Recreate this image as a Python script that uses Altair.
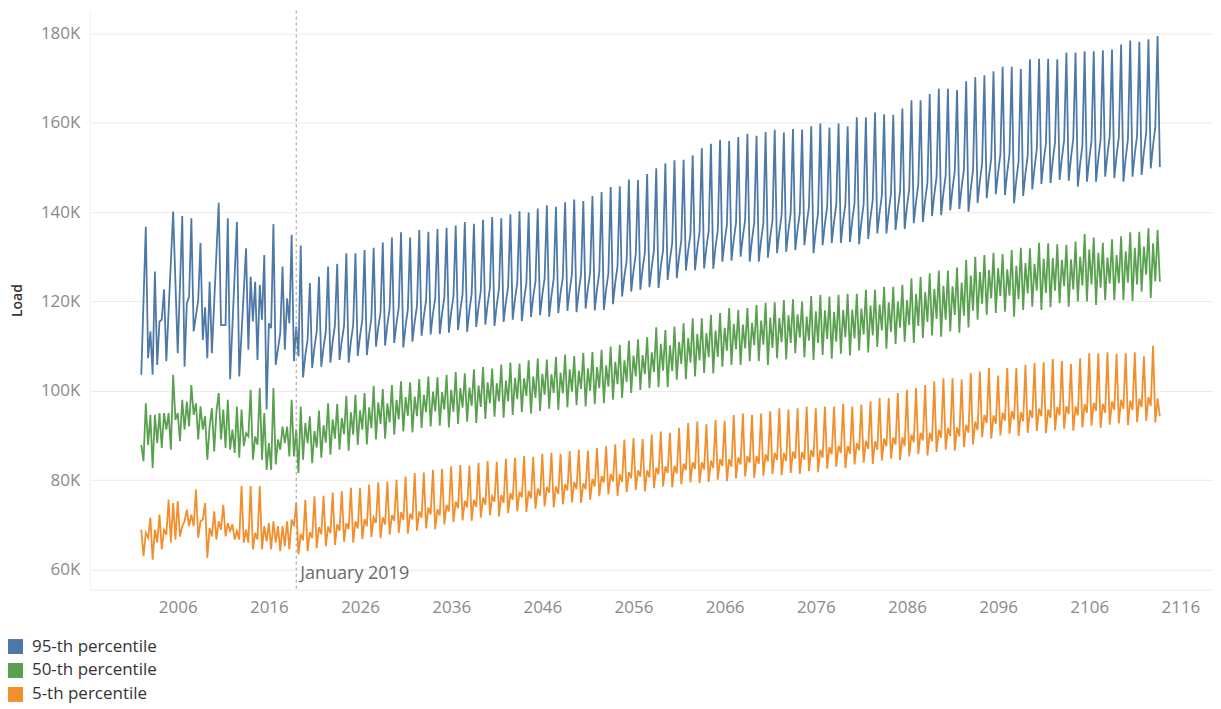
import altair as alt
import pandas as pd

FONT = "Open Sans"
SERIES = ["95-th percentile", "50-th percentile", "5-th percentile"]
COLORS = ["#4e79a7", "#59a14f", "#f28e2b"]
REF_DATE = "2019-01-01"
REF_LABEL = "January 2019"
X_TICK_YEARS = [2006, 2016, 2026, 2036, 2046, 2056, 2066, 2076, 2086, 2096, 2106, 2116]
Y_TICKS = [60, 80, 100, 120, 140, 160, 180]

# ---------------- historical part (values in thousands) ----------------
blue_hist_dates = [
    "2002-01", "2002-07", "2002-10", "2003-01", "2003-04", "2003-07", "2003-10",
    "2004-01", "2004-04", "2004-07", "2004-10", "2005-07", "2006-01", "2006-07",
    "2006-10", "2007-01", "2007-04", "2007-07", "2007-10", "2008-04", "2008-07",
    "2008-10", "2009-01", "2009-04", "2009-07", "2009-10", "2010-07", "2010-10",
    "2011-04", "2011-07", "2011-10", "2012-07", "2012-10", "2013-01", "2013-07",
    "2013-10", "2014-01", "2014-04", "2014-07", "2014-10", "2015-01", "2015-04",
    "2015-07", "2015-10", "2016-01", "2016-04", "2016-07", "2016-10", "2017-04",
    "2017-07", "2017-10", "2018-01", "2018-04", "2018-07", "2018-10",
]
blue_hist = [
    103.6, 136.7, 107.3, 113.3, 103.6, 126.7, 105.8,
    115.5, 115.9, 122.7, 106.6, 140.1, 108.4, 139.1,
    105.4, 119.6, 121.1, 138.6, 113.3, 120.3, 133.1,
    111.4, 118.7, 107.3, 124.4, 108.4, 142.1, 114.7,
    114.7, 138.6, 102.6, 137.8, 103.2, 112.9, 131.9,
    109.2, 125.5, 115.5, 124.4, 106.9, 123.7, 115.9,
    130.4, 95.8, 115.1, 114.0, 137.3, 105.8, 112.9,
    127.8, 109.2, 120.7, 115.1, 134.9, 106.6,
]

# quarterly (Jan, Apr, Jul, Oct) 2002 .. 2018
green_hist = [
    87.9, 84.2, 97.2, 87.9,
    94.6, 82.7, 94.6, 88.3,
    95.0, 87.2, 95.0, 91.3,
    95.0, 86.8, 103.6, 93.5,
    95.0, 88.7, 98.0, 91.3,
    97.6, 92.0, 101.3, 94.6,
    97.2, 89.1, 96.5, 91.3,
    94.3, 84.6, 92.0, 96.1,
    86.4, 95.4, 99.5, 89.1,
    95.8, 87.2, 98.0, 86.8,
    91.3, 86.1, 96.5, 85.0,
    95.8, 87.6, 90.5, 89.8,
    100.2, 84.6, 89.8, 87.9,
    100.6, 84.6, 95.0, 82.3,
    88.3, 82.3, 100.6, 83.5,
    89.1, 86.8, 92.0, 88.3,
    92.0, 85.3, 98.0, 85.3,
]
orange_hist = [
    68.9, 63.0, 68.2, 67.1,
    71.6, 62.2, 68.9, 66.0,
    72.3, 64.5, 68.9, 67.8,
    75.6, 66.0, 74.9, 66.7,
    75.3, 67.4, 69.7, 70.8,
    73.4, 69.7, 72.3, 69.7,
    77.9, 67.1, 70.8, 71.2,
    74.9, 62.6, 69.3, 67.4,
    73.0, 66.7, 70.8, 68.9,
    74.5, 67.4, 70.4, 68.6,
    70.1, 66.7, 68.6, 66.7,
    78.7, 66.0, 68.9, 66.0,
    78.7, 64.5, 68.2, 66.7,
    78.7, 64.5, 69.7, 66.3,
    70.4, 64.5, 70.8, 66.0,
    69.7, 64.1, 69.7, 65.2,
    70.8, 64.5, 71.2, 69.7,
]

# ---------------- forecast part: one value per year 2019 .. 2113 ----------------
blue_jan = [
    114.4, 108.0, 109.7, 109.8, 111.0, 111.2, 111.1, 112.3, 112.6, 114.2,
    114.8, 115.1, 114.5, 115.5, 116.7, 117.3, 117.2, 117.6, 118.0, 118.0,
    118.8, 119.4, 119.2, 119.8, 120.5, 120.4, 121.0, 121.5, 121.3, 121.9,
    122.5, 122.4, 122.9, 122.7, 122.7, 124.2, 125.6, 126.8, 127.3, 127.7,
    127.9, 129.4, 129.9, 131.4, 131.8, 132.0, 132.2, 133.5, 133.8, 134.5,
    133.8, 133.7, 134.4, 135.5, 135.9, 136.1, 137.3, 135.8, 137.4, 137.8,
    138.0, 138.1, 137.8, 138.8, 139.9, 140.1, 140.8, 141.2, 142.3, 142.7,
    143.9, 144.3, 145.2, 145.6, 145.2, 146.9, 148.1, 148.8, 148.9, 147.2,
    148.6, 150.0, 151.4, 151.5, 152.1, 152.2, 150.8, 151.8, 152.0, 152.9,
    152.7, 152.1, 153.0, 153.5, 154.9,
]
blue_apr = [
    107.7, 111.4, 113.3, 113.3, 114.7, 114.6, 114.7, 115.8, 116.3, 117.6,
    118.4, 118.6, 118.2, 119.0, 120.3, 120.7, 120.9, 121.1, 121.6, 121.7,
    122.3, 123.0, 122.9, 123.3, 124.1, 124.1, 124.5, 125.1, 125.1, 125.4,
    126.1, 126.1, 126.5, 126.5, 126.3, 127.9, 129.1, 130.5, 130.9, 131.5,
    131.5, 133.1, 133.7, 135.0, 135.5, 135.8, 135.9, 137.1, 137.6, 138.2,
    137.7, 137.5, 138.1, 139.3, 139.8, 139.8, 141.1, 139.8, 141.2, 141.7,
    141.8, 142.0, 141.8, 142.7, 143.7, 144.1, 144.7, 145.0, 146.3, 146.6,
    147.9, 148.2, 149.2, 149.5, 149.3, 150.9, 152.0, 152.9, 152.9, 151.4,
    152.6, 154.1, 155.4, 155.6, 156.1, 156.4, 154.9, 155.8, 156.2, 157.0,
    156.7, 156.3, 157.1, 157.7, 159.0,
]
blue_jul = [
    132.5, 124.1, 125.5, 127.8, 128.4, 130.8, 130.8, 131.5, 132.0, 133.2,
    134.3, 135.5, 134.3, 136.0, 135.6, 136.2, 136.5, 137.0, 137.8, 137.4,
    138.3, 138.9, 138.6, 139.5, 140.2, 139.9, 140.8, 141.5, 141.2, 142.2,
    142.8, 142.5, 143.6, 144.5, 145.6, 145.8, 147.3, 147.2, 148.5, 149.8,
    150.9, 151.6, 151.7, 152.7, 154.3, 155.3, 156.2, 155.9, 156.8, 157.5,
    157.1, 157.9, 158.4, 157.8, 158.6, 158.5, 159.2, 159.8, 158.9, 159.8,
    159.2, 161.2, 161.2, 162.3, 161.9, 161.8, 163.2, 165.0, 165.0, 166.4,
    167.6, 167.6, 167.3, 169.3, 170.2, 170.6, 171.5, 172.5, 172.5, 172.0,
    174.2, 174.3, 174.3, 174.2, 175.7, 175.7, 176.0, 176.0, 176.2, 176.4,
    177.5, 178.4, 178.1, 178.7, 179.4,
]
blue_oct = [
    103.0, 105.1, 105.4, 106.3, 106.9, 106.3, 107.8, 108.0, 109.9, 110.1,
    110.7, 109.7, 111.0, 112.3, 112.6, 112.7, 113.0, 113.6, 113.2, 114.3,
    114.8, 114.5, 115.4, 115.9, 115.6, 116.5, 116.9, 116.6, 117.4, 117.9,
    117.6, 118.4, 118.0, 118.1, 119.4, 121.1, 122.2, 122.6, 123.2, 123.0,
    124.8, 125.2, 126.9, 127.0, 127.4, 127.3, 128.9, 129.1, 130.0, 128.9,
    128.9, 129.8, 130.8, 131.1, 131.5, 132.6, 130.8, 132.6, 133.1, 133.1,
    133.3, 132.8, 134.0, 135.2, 135.2, 136.0, 136.2, 137.5, 137.8, 139.1,
    139.3, 140.4, 140.7, 140.1, 142.0, 143.1, 144.0, 143.8, 142.0, 143.6,
    145.1, 146.3, 146.5, 147.2, 147.0, 145.7, 146.8, 146.8, 147.9, 147.6,
    146.8, 147.9, 148.3, 149.8, 150.1,
]

green_jan = [
    91.3, 92.8, 91.0, 92.3, 93.6, 93.9, 95.2, 95.6, 96.3, 97.4,
    97.2, 97.9, 98.6, 98.7, 99.1, 99.8, 99.7, 100.2, 100.6, 100.7,
    101.2, 101.9, 101.7, 102.3, 102.9, 102.8, 103.2, 103.8, 103.7, 104.1,
    104.8, 104.5, 105.0, 105.3, 105.7, 106.5, 106.8, 107.9, 108.0, 108.6,
    110.5, 110.2, 110.9, 111.8, 112.7, 112.9, 113.5, 114.1, 115.0, 114.8,
    115.2, 115.7, 116.4, 116.3, 116.9, 117.1, 116.6, 117.8, 118.0, 117.7,
    118.1, 118.2, 118.4, 119.1, 119.3, 119.8, 120.0, 120.3, 121.7, 122.1,
    122.8, 123.5, 123.4, 124.2, 125.8, 126.6, 127.0, 127.4, 127.2, 128.0,
    128.6, 128.4, 129.6, 129.7, 129.3, 129.4, 130.0, 131.6, 130.9, 129.8,
    130.4, 131.2, 132.0, 132.3, 133.0,
]
green_apr = [
    81.6, 88.2, 87.3, 88.4, 89.3, 90.3, 90.2, 91.3, 91.6, 92.6,
    92.9, 93.6, 94.4, 94.3, 95.2, 95.4, 95.8, 95.3, 96.2, 96.6,
    96.4, 97.2, 97.6, 97.6, 98.1, 98.8, 98.4, 99.1, 99.5, 99.4,
    99.8, 100.4, 100.0, 100.6, 100.9, 101.5, 102.0, 103.2, 103.7, 104.2,
    104.5, 104.4, 106.0, 106.3, 106.8, 107.5, 107.6, 109.0, 109.3, 109.5,
    110.2, 110.3, 109.6, 110.9, 110.7, 111.9, 111.2, 110.7, 111.6, 111.0,
    112.0, 111.7, 112.6, 112.4, 113.5, 113.2, 114.1, 114.7, 114.5, 115.4,
    116.1, 115.9, 117.0, 116.8, 117.9, 119.5, 120.7, 121.2, 121.3, 120.5,
    121.8, 122.4, 121.9, 122.4, 123.4, 122.7, 123.6, 123.8, 123.1, 124.0,
    124.1, 124.2, 123.8, 126.0, 124.5,
]
green_jul = [
    96.5, 94.3, 95.6, 97.2, 97.1, 98.9, 99.1, 99.5, 101.1, 100.4,
    101.3, 102.1, 101.9, 102.6, 103.2, 103.0, 103.6, 104.2, 103.9, 104.8,
    105.3, 105.0, 105.9, 106.3, 106.1, 106.8, 107.2, 107.0, 107.6, 108.1,
    107.8, 108.5, 108.7, 109.2, 109.9, 110.3, 111.2, 111.5, 112.0, 114.2,
    113.6, 114.4, 115.1, 116.2, 116.2, 117.0, 117.4, 118.5, 118.1, 118.5,
    119.2, 119.7, 119.8, 120.3, 120.5, 120.0, 121.2, 121.5, 121.1, 121.5,
    121.7, 121.7, 122.6, 122.6, 123.3, 123.3, 123.7, 125.2, 125.5, 126.3,
    126.9, 126.9, 127.6, 129.3, 130.0, 130.4, 130.9, 130.6, 131.5, 132.0,
    131.9, 133.1, 133.0, 132.8, 132.7, 133.4, 135.1, 134.3, 133.1, 133.9,
    134.6, 135.5, 135.6, 136.4, 136.0,
]
green_oct = [
    84.6, 83.8, 85.0, 85.7, 86.8, 86.6, 87.9, 88.0, 89.1, 89.3,
    90.2, 90.9, 90.7, 91.7, 92.0, 92.2, 91.8, 92.6, 93.1, 92.8,
    93.7, 94.2, 94.0, 94.6, 95.2, 94.9, 95.5, 96.0, 95.7, 96.3,
    96.8, 96.5, 97.0, 97.2, 98.0, 98.4, 99.5, 100.2, 100.6, 100.8,
    100.8, 102.5, 102.6, 103.2, 104.0, 103.9, 105.4, 105.8, 105.8, 106.6,
    106.6, 105.8, 107.3, 107.0, 108.4, 107.5, 106.9, 108.0, 107.2, 108.3,
    107.9, 109.0, 108.6, 109.8, 109.4, 110.5, 111.0, 110.7, 111.8, 112.4,
    112.1, 113.3, 113.0, 114.2, 115.9, 117.0, 117.4, 117.7, 116.6, 118.1,
    118.8, 118.1, 118.7, 119.6, 118.8, 120.0, 120.0, 119.2, 120.3, 120.3,
    120.3, 120.1, 122.2, 120.8, 124.4,
]

orange_jan = [
    74.9, 75.6, 76.4, 76.5, 77.2, 77.5, 78.3, 78.3, 79.0, 79.5,
    79.7, 80.1, 80.8, 81.6, 81.7, 82.3, 82.5, 83.1, 83.4, 83.2,
    83.9, 84.3, 84.1, 84.8, 85.0, 85.4, 85.2, 85.9, 86.1, 85.9,
    86.5, 86.8, 86.6, 87.2, 87.6, 88.0, 89.1, 89.4, 89.2, 90.2,
    90.9, 90.6, 91.7, 92.8, 93.1, 92.5, 93.5, 93.3, 94.6, 94.9,
    94.6, 94.9, 95.4, 96.1, 95.8, 96.1, 96.5, 96.1, 96.5, 96.5,
    97.1, 96.5, 96.9, 97.6, 98.4, 98.4, 99.5, 100.2, 100.6, 101.3,
    102.1, 102.8, 102.8, 102.5, 104.0, 104.3, 105.1, 103.4, 105.1, 105.1,
    105.8, 106.2, 106.4, 107.1, 106.7, 106.0, 107.3, 108.4, 108.4, 108.6,
    108.3, 108.4, 108.6, 107.7, 110.1,
]
orange_apr = [
    63.4, 64.1, 64.8, 65.2, 65.5, 66.2, 66.0, 66.8, 67.3, 67.0,
    67.8, 68.2, 68.0, 68.7, 69.2, 69.0, 70.1, 70.6, 71.0, 70.9,
    71.6, 72.1, 71.9, 72.6, 73.0, 72.9, 73.6, 74.1, 73.9, 74.6,
    75.0, 74.9, 75.6, 76.4, 76.8, 76.5, 77.3, 77.8, 77.5, 78.2,
    78.6, 78.4, 79.1, 79.5, 79.3, 79.6, 80.1, 79.8, 80.4, 80.8,
    80.5, 81.0, 81.4, 81.1, 81.6, 81.4, 82.0, 81.8, 82.6, 83.0,
    82.7, 83.5, 83.9, 83.6, 84.4, 84.8, 84.5, 85.3, 85.8, 85.5,
    86.3, 86.8, 86.6, 87.4, 88.0, 89.6, 89.3, 90.0, 90.4, 89.9,
    90.6, 91.0, 90.5, 91.2, 91.5, 91.1, 91.8, 92.2, 91.7, 92.4,
    92.7, 92.3, 93.0, 93.3, 92.9,
]
orange_jul = [
    68.0, 68.4, 69.5, 69.6, 70.1, 70.4, 70.8, 71.3, 71.6, 71.7,
    72.2, 72.8, 72.5, 73.0, 73.9, 73.5, 74.5, 75.2, 75.4, 75.6,
    76.1, 76.4, 76.7, 77.1, 77.4, 77.6, 78.1, 78.5, 78.6, 79.1,
    79.6, 79.3, 80.3, 80.9, 81.4, 81.3, 81.8, 82.2, 82.2, 82.8,
    83.1, 83.2, 83.7, 84.0, 84.0, 84.4, 84.7, 84.7, 85.1, 85.4,
    85.4, 85.8, 86.1, 86.1, 86.4, 86.3, 86.7, 86.8, 87.4, 87.7,
    87.7, 88.3, 88.8, 88.7, 89.3, 89.6, 89.6, 90.2, 90.6, 90.6,
    91.3, 91.7, 91.8, 92.4, 93.1, 94.6, 94.5, 95.1, 95.4, 95.2,
    95.7, 96.0, 95.8, 96.4, 96.6, 96.5, 97.0, 97.3, 97.1, 97.6,
    98.0, 97.8, 98.2, 98.6, 98.3,
]
orange_oct = [
    66.5, 67.0, 67.9, 68.1, 68.7, 69.0, 69.2, 69.7, 70.4, 70.1,
    70.9, 71.1, 71.2, 71.6, 72.3, 72.1, 73.0, 73.7, 73.9, 74.0,
    74.5, 75.2, 74.9, 75.6, 76.1, 75.9, 76.5, 77.2, 76.9, 77.7,
    78.0, 78.0, 78.6, 79.5, 79.7, 79.6, 80.4, 80.8, 80.6, 81.3,
    81.6, 81.5, 82.2, 82.5, 82.4, 82.7, 83.2, 83.0, 83.5, 83.9,
    83.7, 84.2, 84.5, 84.3, 84.8, 84.6, 85.2, 85.0, 85.8, 86.1,
    85.9, 86.7, 87.0, 86.8, 87.6, 88.0, 87.7, 88.5, 88.9, 88.7,
    89.5, 89.9, 89.8, 90.6, 91.2, 92.8, 92.6, 93.3, 93.6, 93.2,
    93.9, 94.3, 93.9, 94.5, 94.8, 94.5, 95.1, 95.5, 95.1, 95.7,
    96.0, 95.7, 96.3, 96.6, 94.3,
]

# ---------------- build the table ----------------
QUARTER_MONTHS = ["01", "04", "07", "10"]
HIST_YEARS = list(range(2002, 2019))
FORECAST_YEARS = list(range(2019, 2114))

rows = []
for d, v in zip(blue_hist_dates, blue_hist):
    rows.append({"date": d + "-01", "load": v, "series": SERIES[0]})


def add_quarterly_hist(values, series):
    k = 0
    for y in HIST_YEARS:
        for m in QUARTER_MONTHS:
            rows.append({"date": f"{y}-{m}-01", "load": values[k], "series": series})
            k += 1


add_quarterly_hist(green_hist, SERIES[1])
add_quarterly_hist(orange_hist, SERIES[2])

forecast = {
    SERIES[0]: [blue_jan, blue_apr, blue_jul, blue_oct],
    SERIES[1]: [green_jan, green_apr, green_jul, green_oct],
    SERIES[2]: [orange_jan, orange_apr, orange_jul, orange_oct],
}
for s, lists in forecast.items():
    for i, y in enumerate(FORECAST_YEARS):
        for m, lst in zip(QUARTER_MONTHS, lists):
            rows.append({"date": f"{y}-{m}-01", "load": lst[i], "series": s})

df = pd.DataFrame(rows)

x_scale = alt.Scale(domain=[alt.DateTime(year=1996, month=5, date=12),
                            alt.DateTime(year=2119, month=7, date=31)])
y_scale = alt.Scale(domain=[55.5, 185.1], nice=False, zero=False)
color_scale = alt.Scale(domain=SERIES, range=COLORS)

x_axis = alt.Axis(
    values=[alt.DateTime(year=y, month=1, date=1) for y in X_TICK_YEARS],
    format="%Y", title=None, grid=False, domain=True, domainColor="#ececec", ticks=False,
    labelPadding=10, labelFontSize=17, labelColor="#8a8a8a", labelFont=FONT,
)
y_axis = alt.Axis(
    values=Y_TICKS, labelExpr="datum.value + 'K'", title="Load",
    grid=True, gridColor="#ebebeb", domain=True, domainColor="#f0f0f0", ticks=False,
    labelPadding=10, labelFontSize=17, labelColor="#8a8a8a", labelFont=FONT,
    titleFont=FONT, titleFontSize=14, titleFontWeight=600, titleColor="#333333",
    titleX=-72, titleY=290, titleAlign="center", titleBaseline="middle", titleAngle=270,
)

lines = alt.Chart(df).mark_line(strokeWidth=1.8, clip=True).encode(
    x=alt.X("date:T", scale=x_scale, axis=x_axis),
    y=alt.Y("load:Q", scale=y_scale, axis=y_axis),
    color=alt.Color("series:N", scale=color_scale, legend=None),
    detail="series:N",
)

ref_df = pd.DataFrame({"date": [REF_DATE], "label": [REF_LABEL], "load": [57.9]})
ref_rule = alt.Chart(ref_df).mark_rule(color="#9a9a9a", strokeDash=[3, 3], strokeWidth=1).encode(
    x=alt.X("date:T", scale=x_scale)
)
ref_text = alt.Chart(ref_df).mark_text(
    align="left", baseline="alphabetic", dx=4, fontSize=18, font=FONT, color="#6b6b6b"
).encode(
    x=alt.X("date:T", scale=x_scale),
    y=alt.Y("load:Q", scale=y_scale),
    text="label:N",
)

main = alt.layer(lines, ref_rule, ref_text)

# legend drawn below the plot (Tableau-style colour squares + labels)
legend_df = pd.DataFrame({"series": SERIES})
legend_y = alt.Y("series:N", scale=alt.Scale(domain=SERIES, range=[637, 685], padding=0), axis=None)
legend_sq = alt.Chart(legend_df).mark_square(size=225, opacity=1, filled=True).encode(
    x=alt.value(-74.5),
    y=legend_y,
    color=alt.Color("series:N", scale=color_scale, legend=None),
)
legend_tx = alt.Chart(legend_df).mark_text(
    align="left", baseline="middle", fontSize=17, font=FONT, color="#333333"
).encode(
    x=alt.value(-58),
    y=legend_y,
    text="series:N",
)
legend = alt.layer(legend_sq, legend_tx)

chart = alt.layer(main, legend).resolve_scale(y="independent").properties(
    width=1125,
    height=580,
    padding={"left": 82, "top": 2, "right": 0, "bottom": 115},
    autosize=alt.AutoSizeParams(type="none"),
    background="white",
    view=alt.ViewBackground(stroke="transparent", strokeWidth=0, strokeOpacity=0),
).configure(
    view=alt.ViewConfig(stroke="transparent", strokeWidth=0, strokeOpacity=0),
    style={"cell": {"stroke": "transparent", "strokeWidth": 0}},
)

chart.save("out.html", embed_options={"renderer": "svg", "actions": False})
